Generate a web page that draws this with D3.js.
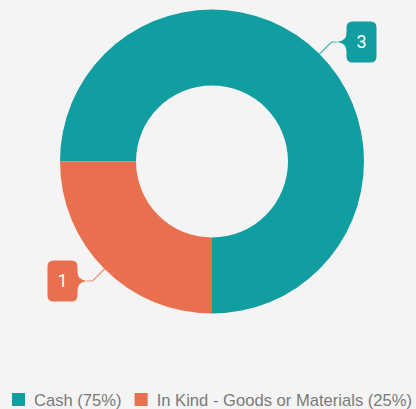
<!DOCTYPE html>
<html>
<head>
<meta charset="utf-8">
<script src="https://cdn.jsdelivr.net/npm/d3@7"></script>
<style>
html,body{margin:0;padding:0;background:#f4f4f4;}
svg{display:block;}
</style>
</head>
<body>
<svg id="chart" width="416" height="409"></svg>
<script>
const categories = ["Cash", "In Kind - Goods or Materials"];
const values = [3, 1];
const colors = ["#109ea1", "#e8704f"];

const W = 416, H = 409;
const cx = 212, cy = 161.5, rOuter = 152, rInner = 76;
const svg = d3.select("#chart");
svg.append("rect").attr("width", W).attr("height", H).attr("fill", "#f4f4f4");

const total = d3.sum(values);
const data = categories.map((c, i) => ({ name: c, value: values[i], color: colors[i] }));

const pie = d3.pie().value(d => d.value).sort(null)
  .startAngle(-Math.PI / 2).endAngle(3 * Math.PI / 2);
const arc = d3.arc().innerRadius(rInner).outerRadius(rOuter);
const arcs = pie(data);

const g = svg.append("g").attr("transform", `translate(${cx},${cy})`);
g.selectAll("path.slice").data(arcs).join("path")
  .attr("class", "slice")
  .attr("d", arc)
  .attr("fill", d => d.data.color);

// callouts
const boxW = 30, boxH = 41, cr = 6, ptr = 9.5, half = 9, hseg = 5.5;
function calloutPath(s) {
  const b = s * ptr, e = s * (ptr + boxW), t = -boxH / 2, bt = boxH / 2;
  return `M${b},${t + cr} Q${b},${t} ${b + s * cr},${t} H${e - s * cr} Q${e},${t} ${e},${t + cr}` +
    ` V${bt - cr} Q${e},${bt} ${e - s * cr},${bt} H${b + s * cr} Q${b},${bt} ${b},${bt - cr}` +
    ` V${half} Q${b},1 0,0 Q${b},-1 ${b},${-half} Z`;
}
arcs.forEach(a => {
  const mid = (a.startAngle + a.endAngle) / 2;
  const sx = Math.sin(mid), sy = -Math.cos(mid);
  const p0 = [cx + rOuter * sx, cy + rOuter * sy];
  const p1 = [cx + (rOuter + 17) * sx, cy + (rOuter + 17) * sy];
  const s = sx >= 0 ? 1 : -1;
  const tip = [p1[0] + s * hseg, p1[1]];
  svg.append("path")
    .attr("d", d3.line()([p0, p1, tip]))
    .attr("fill", "none")
    .attr("stroke", a.data.color)
    .attr("stroke-opacity", 0.75)
    .attr("stroke-width", 1.2);
  const cg = svg.append("g").attr("transform", `translate(${tip[0]},${tip[1]})`);
  cg.append("path").attr("d", calloutPath(s)).attr("fill", a.data.color);
  cg.append("text")
    .attr("x", s * (ptr + boxW / 2))
    .attr("y", 0)
    .attr("dy", "0.36em")
    .attr("text-anchor", "middle")
    .attr("fill", "#ffffff")
    .attr("font-family", "Roboto, 'Liberation Sans', sans-serif")
    .attr("font-size", 18)
    .text(a.data.value);
});

// legend
const legend = svg.append("g");
let lx = 12;
const ly = 393;
data.forEach(d => {
  legend.append("rect").attr("x", lx).attr("y", ly).attr("width", 13).attr("height", 13).attr("fill", d.color);
  const t = legend.append("text")
    .attr("x", lx + 22)
    .attr("y", 406)
    .attr("fill", "#7a7a7a")
    .attr("font-family", "'Liberation Sans', Arial, sans-serif")
    .attr("font-size", 16.6)
    .text(`${d.name} (${Math.round(d.value / total * 100)}%)`);
  lx = lx + 22 + t.node().getComputedTextLength() + 13;
});
</script>
</body>
</html>
